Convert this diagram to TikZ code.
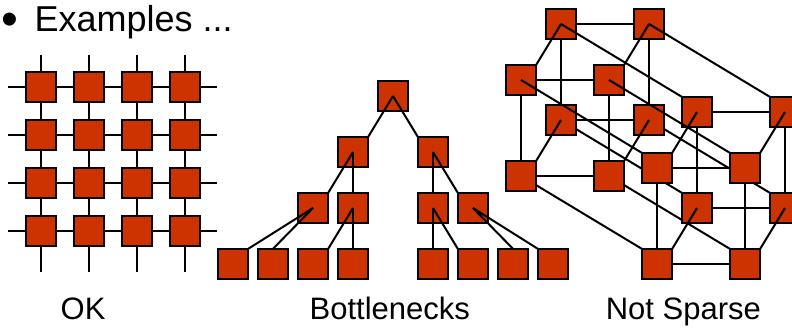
\documentclass[tikz,border=0pt]{standalone}
\usepackage{fontspec}
\setmainfont{Liberation Sans}
\usetikzlibrary{backgrounds}
\definecolor{boxred}{RGB}{204,51,0}
\begin{document}
\begin{tikzpicture}[x=1pt,y=-1pt,
  sq/.style={draw=black,line width=2pt,fill=boxred,minimum size=30.4pt,inner sep=0pt,outer sep=0pt},
  ln/.style={line width=2pt,draw=black},
  ttl/.style={anchor=base west,inner sep=0pt,font=\fontsize{36}{40}\selectfont},
  lbl/.style={anchor=base west,inner sep=0pt,font=\fontsize{31}{34}\selectfont}]
\useasboundingbox (0,0) rectangle (792,327);
\clip (0,0) rectangle (792,327);

% title
\node[ttl,font=\fontsize{48}{52}\selectfont] (bul) at (1.5,35.8) {•};
\node[ttl] (ex) at (34.5,31.7) {Examples ...};

% labels
\node[lbl] (ok) at (60.5,319) {OK};
\node[lbl] (bn) at (309.5,319) {Bottlenecks};
\node[lbl] (ns) at (605.6,319) {Not Sparse};

% ---------- grid (OK) ----------
\foreach \i in {1,...,4} {
  \foreach \j in {1,...,4} {
    \node[sq] (g\i\j) at ({41+48*(\i-1)},{87+48*(\j-1)}) {};
  }
}
\foreach \k in {1,...,4} {
  \coordinate (gl\k) at (8,{87+48*(\k-1)});
  \coordinate (gr\k) at (217,{87+48*(\k-1)});
  \coordinate (gt\k) at ({41+48*(\k-1)},55);
  \coordinate (gb\k) at ({41+48*(\k-1)},272);
}
\begin{pgfonlayer}{background}
\foreach \k in {1,...,4} {
  \draw[ln] (gl\k) -- (gr\k);
  \draw[ln] (gt\k) -- (gb\k);
}
\end{pgfonlayer}

% ---------- tree (Bottlenecks) ----------
\node[sq] (t0) at (393,96) {};
\node[sq] (t1) at (353,152) {};
\node[sq] (t2) at (433,152) {};
\node[sq] (t3) at (313,208) {};
\node[sq] (t4) at (353,208) {};
\node[sq] (t5) at (433,208) {};
\node[sq] (t6) at (473,208) {};
\foreach \n/\x in {1/233,2/273,3/313,4/353,5/433,6/473,7/513,8/553}
  \node[sq] (u\n) at (\x,264) {};

\draw[ln] (t0.center) -- (t1.north east);
\draw[ln] (t0.center) -- (t2.north west);
\draw[ln] (t1.center) -- (t3.north east);
\draw[ln] (t1.center) -- (t4.north);
\draw[ln] (t2.center) -- (t5.north);
\draw[ln] (t2.center) -- (t6.north west);
\draw[ln] (t3.center) -- (u1.north east);
\draw[ln] (t3.center) -- (u2.north);
\draw[ln] (t4.center) -- (u3.north east);
\draw[ln] (t4.center) -- (u4.north);
\draw[ln] (t5.center) -- (u5.north);
\draw[ln] (t5.center) -- (u6.north west);
\draw[ln] (t6.center) -- (u7.north);
\draw[ln] (t6.center) -- (u8.north west);

% ---------- hypercube (Not Sparse) ----------
\node[sq] (A) at (561,24) {};
\node[sq] (B) at (649,24) {};
\node[sq] (C) at (521,80) {};
\node[sq] (D) at (609,80) {};
\node[sq] (E) at (561,120) {};
\node[sq] (F) at (649,120) {};
\node[sq] (P) at (521,176) {};
\node[sq] (Q) at (609,176) {};
\node[sq] (G) at (697,112) {};
\node[sq] (H) at (785,112) {};
\node[sq] (R) at (657,168) {};
\node[sq] (S) at (745,168) {};
\node[sq] (I) at (697,208) {};
\node[sq] (J) at (785,208) {};
\node[sq] (K) at (657,264) {};
\node[sq] (L) at (745,264) {};

\begin{pgfonlayer}{background}
\foreach \s/\t in {A/B,C/D,E/F,P/Q,G/H,R/S,I/J,K/L,A/E,B/F,C/P,D/Q,G/I,H/J,R/K,S/L}
  \draw[ln] (\s.center) -- (\t.center);
\foreach \s/\t in {E/I,F/J,P/K,Q/L}
  \draw[ln] (\s.center) -- (\t.north west);
\end{pgfonlayer}

\foreach \s/\t in {A/C,B/D,E/P,F/Q,G/R,H/S,I/K,J/L}
  \draw[ln] (\s.center) -- (\t.north east);
\foreach \s/\t in {A/G,B/H,C/R,D/S}
  \draw[ln] (\s.center) -- (\t.north west);
\end{tikzpicture}
\end{document}
